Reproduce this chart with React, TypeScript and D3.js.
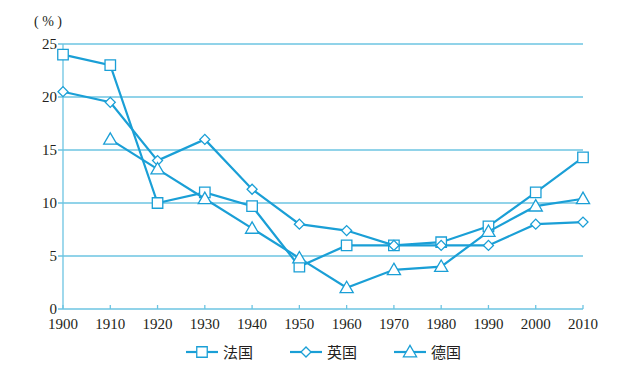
import React, { useEffect, useRef } from 'react';
import * as d3 from 'd3';

const years = [1900, 1910, 1920, 1930, 1940, 1950, 1960, 1970, 1980, 1990, 2000, 2010];
const yTicks = [0, 5, 10, 15, 20, 25];
const france = [24, 23, 10, 11, 9.7, 4, 6, 6, 6.3, 7.8, 11, 14.3];
const uk = [20.5, 19.5, 14, 16, 11.3, 8, 7.4, 6, 6, 6, 8, 8.2];
const germany = [null, 16, 13.2, 10.4, 7.6, 4.8, 2, 3.7, 4, 7.3, 9.7, 10.4];
const seriesNames = ['法国', '英国', '德国'];

const LINE = '#1a9fd6';
const GRID = '#6cc4e2';

const App = () => {
  const ref = useRef<SVGSVGElement>(null);

  useEffect(() => {
    const svg = d3.select(ref.current);
    svg.selectAll('*').remove();

    const x = d3.scaleLinear().domain([1900, 2010]).range([63, 583]);
    const y = d3.scaleLinear().domain([0, 25]).range([309, 44]);

    const num = 'Liberation Serif';
    const cjk = 'Noto Sans CJK SC';

    // grid lines
    svg.append('g').selectAll('line')
      .data(yTicks.filter(d => d > 0))
      .enter().append('line')
      .attr('x1', x(1900) - 5).attr('x2', x(2010))
      .attr('y1', d => y(d)).attr('y2', d => y(d))
      .attr('stroke', GRID).attr('stroke-width', 1.3);

    // axes
    svg.append('line')
      .attr('x1', x(1900)).attr('x2', x(1900))
      .attr('y1', y(0)).attr('y2', y(25))
      .attr('stroke', GRID).attr('stroke-width', 1.3);
    svg.append('line')
      .attr('x1', x(1900) - 5).attr('x2', x(2010))
      .attr('y1', y(0)).attr('y2', y(0))
      .attr('stroke', GRID).attr('stroke-width', 1.3);
    svg.append('g').selectAll('line')
      .data(years)
      .enter().append('line')
      .attr('x1', d => x(d)).attr('x2', d => x(d))
      .attr('y1', y(0)).attr('y2', y(0) - 4)
      .attr('stroke', GRID).attr('stroke-width', 1.3);

    // tick labels
    svg.append('g').selectAll('text')
      .data(yTicks)
      .enter().append('text')
      .attr('x', x(1900) - 6).attr('y', d => y(d) + 5)
      .attr('text-anchor', 'end')
      .style('font-family', num).attr('font-size', 15).attr('fill', '#231f20')
      .text(d => d);
    svg.append('g').selectAll('text')
      .data(years)
      .enter().append('text')
      .attr('x', d => x(d)).attr('y', y(0) + 20)
      .attr('text-anchor', 'middle')
      .style('font-family', num).attr('font-size', 15).attr('fill', '#231f20')
      .text(d => d);
    svg.append('text')
      .attr('x', 48).attr('y', 26)
      .attr('text-anchor', 'middle')
      .style('font-family', num).attr('font-size', 14).attr('fill', '#231f20')
      .text('( % )');

    const markers = [
      d3.symbol().type(d3.symbolSquare).size(110),
      d3.symbol().type(d3.symbolSquare).size(50),
      d3.symbol().type(d3.symbolTriangle).size(75),
    ];
    const rot = [0, 45, 0];

    const allSeries = [france, uk, germany];
    allSeries.forEach((vals, i) => {
      const pts = years.map((yr, j) => ({ yr, v: vals[j] })).filter(p => p.v != null) as { yr: number; v: number }[];
      const line = d3.line<{ yr: number; v: number }>().x(p => x(p.yr)).y(p => y(p.v));
      svg.append('path')
        .attr('d', line(pts))
        .attr('fill', 'none').attr('stroke', LINE).attr('stroke-width', 2.2);
      svg.append('g').selectAll('path')
        .data(pts)
        .enter().append('path')
        .attr('d', markers[i]())
        .attr('transform', p => `translate(${x(p.yr)},${y(p.v) + (i === 2 ? 1 : 0)}) rotate(${rot[i]})`)
        .attr('fill', 'white').attr('stroke', LINE).attr('stroke-width', 1.3);
    });

    // legend
    const legendX = [186, 290, 394];
    seriesNames.forEach((name, i) => {
      const g = svg.append('g').attr('transform', `translate(${legendX[i]},352)`);
      g.append('line').attr('x1', 0).attr('x2', 32).attr('y1', 0).attr('y2', 0)
        .attr('stroke', LINE).attr('stroke-width', 2.2);
      g.append('path').attr('d', markers[i]())
        .attr('transform', `translate(16,${i === 2 ? 1 : 0}) rotate(${rot[i]})`)
        .attr('fill', 'white').attr('stroke', LINE).attr('stroke-width', 1.3);
      g.append('text').attr('x', 37).attr('y', 6)
        .style('font-family', cjk).attr('font-size', 15).attr('fill', '#231f20')
        .text(name);
    });
  }, []);

  return (
    <svg ref={ref} width={627} height={369} style={{ position: 'absolute', left: 0, top: 0, background: 'white' }} />
  );
};

export default App;
